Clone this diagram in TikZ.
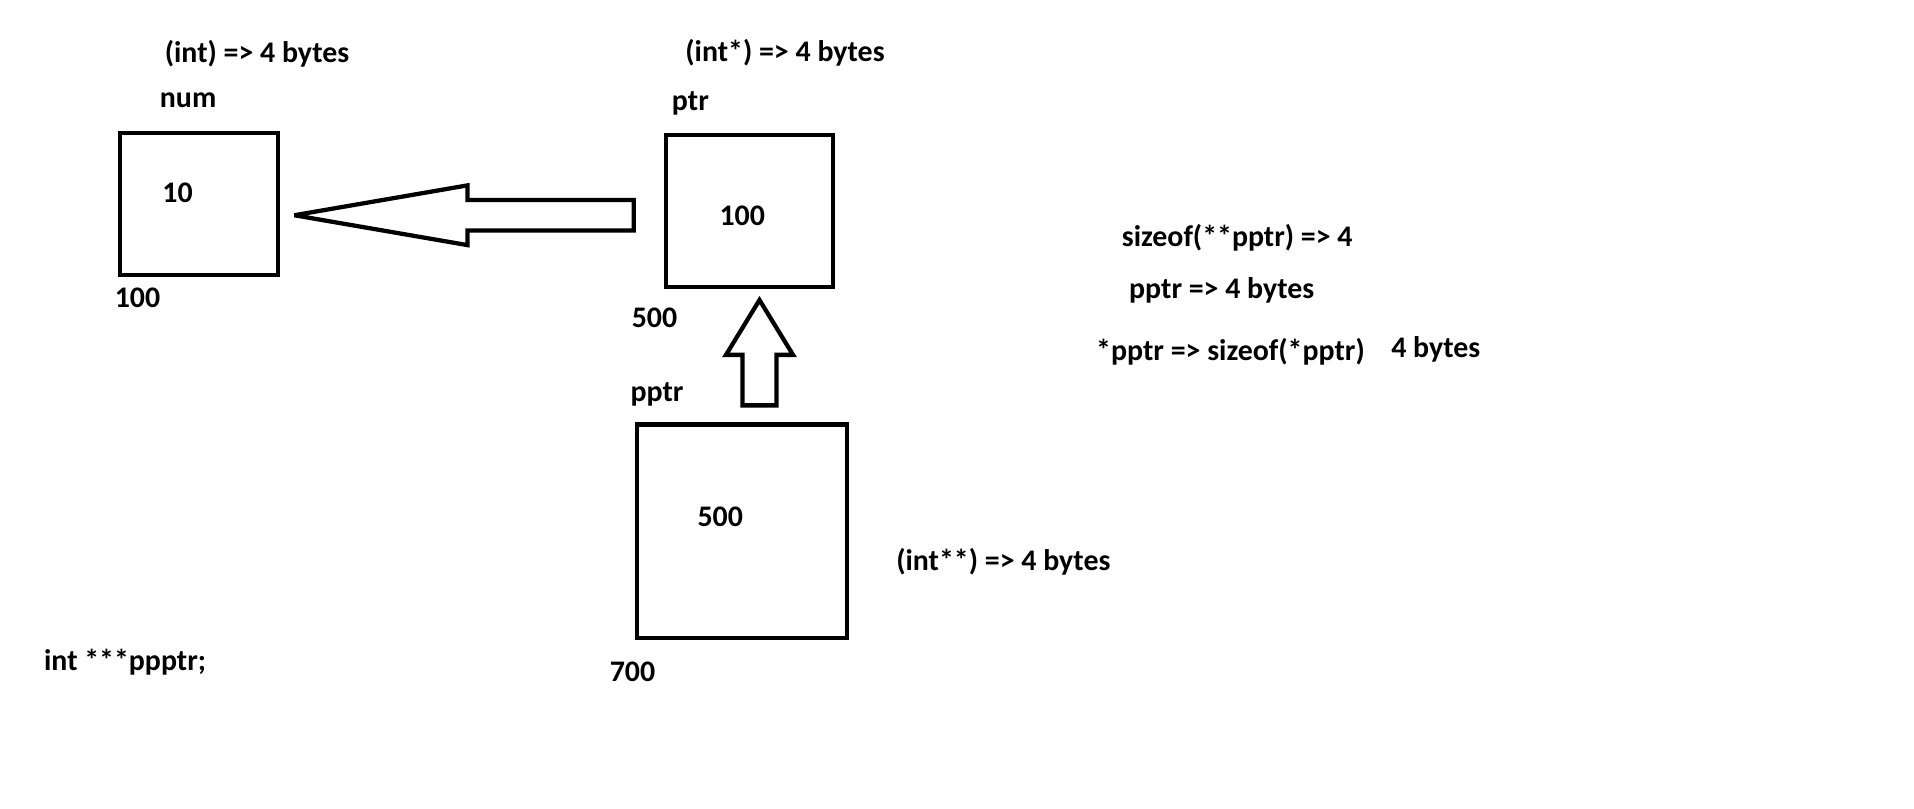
\documentclass[tikz,border=0pt]{standalone}
\usepackage{fontspec}
\setmainfont{Carlito}
\usetikzlibrary{calc}
\begin{document}
\begin{tikzpicture}[x=1pt,y=-1.006pt,
  every node/.style={font=\bfseries\fontsize{24.5}{29}\selectfont, inner sep=0pt, anchor=west},
  cell/.style={draw, line width=3.5pt, anchor=center, minimum width=#1},
  blockarrow/.style={draw, line width=3.5pt, line join=miter, miter limit=3}]
\fill[white] (0,0) rectangle (1570,659.6);
\useasboundingbox (0,0) rectangle (1570,659.6);

% boxes
\node[cell=129.5, minimum height=116.5] (num) at (163,166.5) {};
\node[cell=137, minimum height=125] (ptr) at (614.5,172) {};
\node[cell=172, minimum height=175] (pptr) at (608.5,433) {};

% texts
\node (t1) at (135,44) {(int) => 4 bytes};
\node (lnum) at (131,82) {num};
\node (v10) at (133,157) {10};
\node (a100) at (94,243) {100};
\node (t2) at (562,43) {(int*) => 4 bytes};
\node (lptr) at (551,84) {ptr};
\node (v100) at (590,176) {100};
\node (a500) at (518,259) {500};
\node (lpptr) at (517,322) {pptr};
\node (v500) at (572,421) {500};
\node (a700) at (500,548) {700};
\node (t3) at (735,458) {(int**) => 4 bytes};
\node (decl) at (36,540) {int ***ppptr;};
\node (s1) at (920,194) {sizeof(**pptr) => 4};
\node (s2) at (926,237) {pptr => 4 bytes};
\node (s3) at (899,287) {*pptr => sizeof(*pptr)};
\node (s4) at (1141,285) {4 bytes};

% left block arrow: ptr -> num
\coordinate (a1tip) at ($(num.east)+(12,9)$);
\coordinate (a1tail) at ($(ptr.west)+(-24.5,3.5)$);
\draw[blockarrow] let \p1=(a1tip), \p2=(a1tail) in
  (\x1,\y1) -- ({\x1+142pt},{\y1+24.5pt}) -- ({\x1+142pt},{\y1+12.5pt})
  -- (\x2,{\y1+12.5pt}) -- (\x2,{\y1-12.5pt}) -- ({\x1+142pt},{\y1-12.5pt})
  -- ({\x1+142pt},{\y1-24.5pt}) -- cycle;

% up block arrow: pptr -> ptr
\coordinate (a2tip) at ($(ptr.south)+(8.5,8.75)$);
\coordinate (a2tail) at ($(pptr.north)+(14.5,-13.75)$);
\draw[blockarrow] let \p1=(a2tip), \p2=(a2tail) in
  (\x1,\y1) -- ({\x1+27.5pt},{\y1-45pt}) -- ({\x1+14pt},{\y1-45pt})
  -- ({\x1+14pt},\y2) -- ({\x1-14pt},\y2) -- ({\x1-14pt},{\y1-45pt})
  -- ({\x1-27.5pt},{\y1-45pt}) -- cycle;
\end{tikzpicture}
\end{document}
